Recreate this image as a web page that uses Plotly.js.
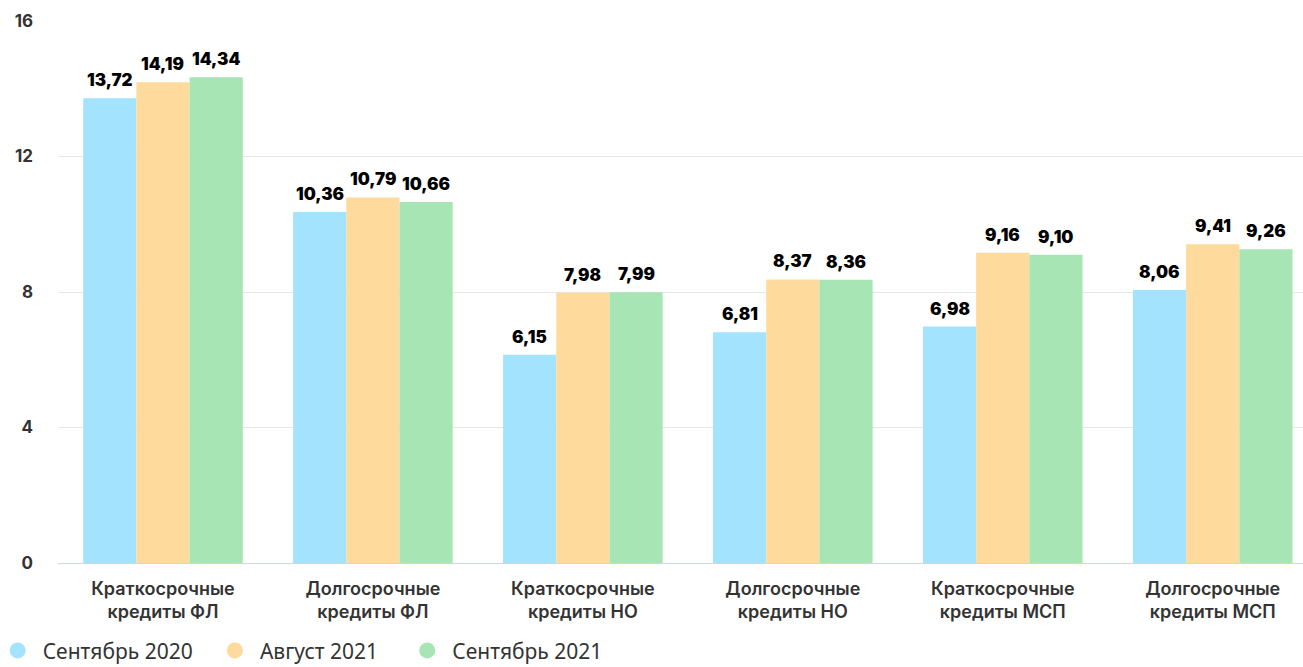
<!DOCTYPE html>
<html><head><meta charset="utf-8">
<script src="https://cdn.plot.ly/plotly-3.0.1.min.js"></script>
<style>html,body{margin:0;padding:0;background:#fff}#c{width:1303px;height:667px}</style>
</head><body><div id="c"></div>
<script>
const categories = ["Краткосрочные<br>кредиты ФЛ","Долгосрочные<br>кредиты ФЛ","Краткосрочные<br>кредиты НО","Долгосрочные<br>кредиты НО","Краткосрочные<br>кредиты МСП","Долгосрочные<br>кредиты МСП"];
const seriesNames = ["Сентябрь 2020","Август 2021","Сентябрь 2021"];
const sep2020 = [13.72,10.36,6.15,6.81,6.98,8.06];
const aug2021 = [14.19,10.79,7.98,8.37,9.16,9.41];
const sep2021 = [14.34,10.66,7.99,8.36,9.10,9.26];
const colors = ["#A3E3FD","#FEDA9C","#A7E5B4"];
const yTicks = [0,4,8,12,16];

const W = 1303, H = 667, ML = 58, MR = 0, MT = 21, MB = 104;
const xRange = [-0.5, 5.43];
const bargap = 0.24;
const pxPerCat = (W - ML - MR) / (xRange[1] - xRange[0]);
const barW = pxPerCat * (1 - bargap) / 3;

const allSeries = [sep2020, aug2021, sep2021];
const traces = [];
const annotations = [];
allSeries.forEach((vals,i)=>{
  traces.push({
    type:'bar', x:categories, y:vals, name:seriesNames[i], showlegend:false,
    marker:{color:colors[i], line:{width:0}}, hoverinfo:'none'
  });
  vals.forEach((v,j)=>{
    annotations.push({
      xref:'x', yref:'y', x:categories[j], y:v, xshift:(i-1)*barW, yshift:6,
      xanchor:'center', yanchor:'bottom', showarrow:false,
      text: v.toFixed(2).replace('.', ','),
      font:{family:'Inter, Roboto, sans-serif', size:17, color:'#000', weight:900}
    });
  });
});
const legendX = [-0.0525, 0.122, 0.2765];
allSeries.forEach((vals,i)=>{
  traces.push({
    type:'scatter', mode:'markers', x:[null], y:[null], name:seriesNames[i],
    legend: i === 0 ? 'legend' : 'legend' + (i+1),
    marker:{color:colors[i], size:20, symbol:'circle'}, showlegend:true, hoverinfo:'none'
  });
});
function leg(x){
  return {orientation:'h', x:x, xanchor:'left', y:-0.162, yanchor:'middle',
    font:{family:'"Noto Sans", sans-serif', size:21, color:'#333'},
    itemwidth:40, bgcolor:'rgba(0,0,0,0)'};
}

const layout = {
  width:W, height:H,
  margin:{l:ML, r:MR, t:MT, b:MB, autoexpand:false},
  paper_bgcolor:'#fff', plot_bgcolor:'#fff',
  barmode:'group', bargap:bargap, bargroupgap:0,
  showlegend:true,
  legend:leg(legendX[0]), legend2:leg(legendX[1]), legend3:leg(legendX[2]),
  annotations:annotations,
  xaxis:{
    range:xRange, showgrid:false, zeroline:false,
    showline:true, linecolor:'#ccd6eb', linewidth:1,
    ticks:'', tickfont:{family:'Inter, Roboto, sans-serif', size:18, color:'#333', weight:600},
    ticklabelstandoff:9, fixedrange:true
  },
  yaxis:{
    range:[0,16], tickvals:yTicks, ticktext:yTicks.map(String),
    showgrid:true, gridcolor:'#e6e6e6', gridwidth:1,
    zeroline:false, showline:false, ticks:'',
    tickfont:{family:'Inter, Roboto, sans-serif', size:17, color:'#333', weight:700},
    ticklabelstandoff:24, fixedrange:true
  },
  font:{family:'Inter, Roboto, sans-serif'}
};
Plotly.newPlot('c', traces, layout, {displayModeBar:false, staticPlot:true});
</script></body></html>
